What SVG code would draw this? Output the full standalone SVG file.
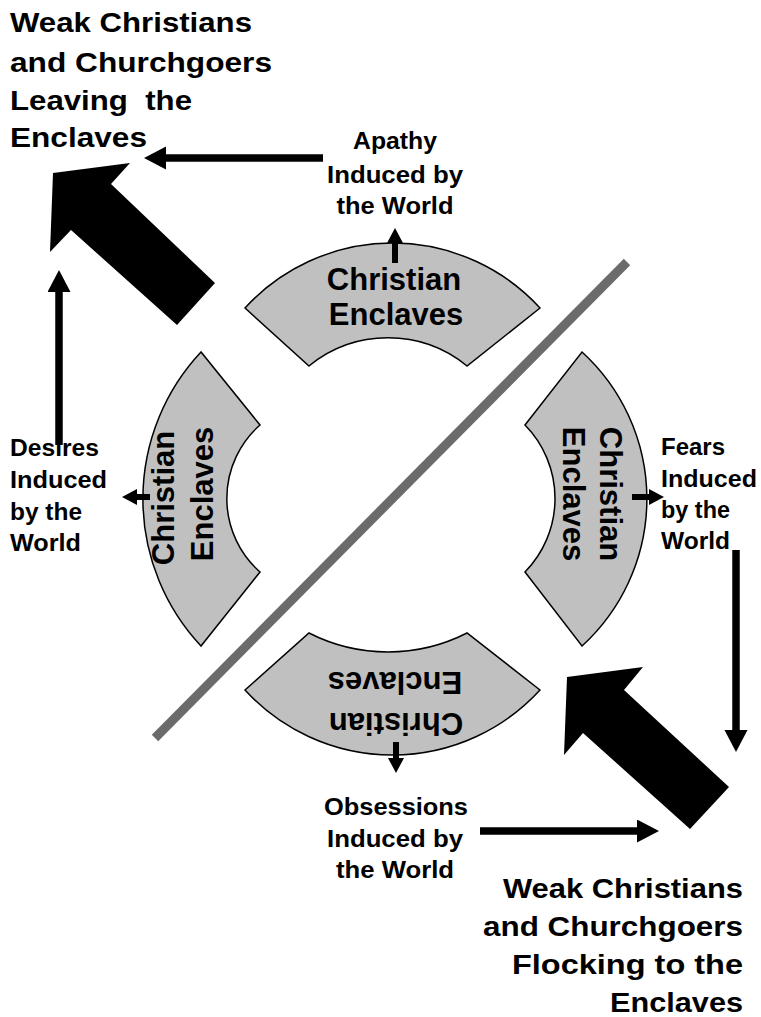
<svg xmlns="http://www.w3.org/2000/svg" width="761" height="1017" viewBox="0 0 761 1017">
  <style>
    .sector { fill: #c0c0c0; stroke: #000; stroke-width: 1.5; stroke-linejoin: miter; }
    .lbl { font-family: "Liberation Sans", Arial, sans-serif; font-weight: bold; fill: #000; }
    .big { font-size: 27px; }
    .small { font-size: 23px; }
    .sec { font-size: 31px; text-anchor: middle; }
    .thin { stroke: #000; stroke-width: 6; fill: none; }
    .long { stroke: #000; stroke-width: 7.5; fill: none; }
    .block { fill: #000; }
  </style>
  <defs>
    <marker id="headSmall" markerUnits="userSpaceOnUse" markerWidth="18" markerHeight="18" refX="0" refY="8" orient="auto">
      <path d="M0,0 L15,8 L0,16 Z" fill="#000"/>
    </marker>
    <marker id="headLong" markerUnits="userSpaceOnUse" markerWidth="26" markerHeight="26" refX="0" refY="11.5" orient="auto">
      <path d="M0,0 L22,11.5 L0,23 Z" fill="#000"/>
    </marker>
  </defs>

  <rect width="761" height="1017" fill="#fff"/>

  <!-- dividing diagonal -->
  <line x1="155" y1="738" x2="627" y2="262" stroke="#6b6b6b" stroke-width="9"/>

  <!-- enclave ring segments -->
  <g id="enclave-top">
    <path class="sector" d="M245,308 A200,200 0 0 1 540,308 L467,366 A125,125 0 0 0 309,366 Z"/>
    <text class="lbl sec" x="394" y="290">Christian</text>
    <text class="lbl sec" x="396" y="325">Enclaves</text>
  </g>
  <g id="enclave-left">
    <path class="sector" d="M201,646 A215,215 0 0 1 201,352 L260,425 A98,98 0 0 0 260,572 Z"/>
    <text class="lbl sec" transform="translate(174,498) rotate(-90)">Christian</text>
    <text class="lbl sec" transform="translate(213,494) rotate(-90)">Enclaves</text>
  </g>
  <g id="enclave-right">
    <path class="sector" d="M582,352 A199,199 0 0 1 582,646 L525,572 A105,105 0 0 0 525,425 Z"/>
    <text class="lbl sec" transform="translate(600,494) rotate(90)">Christian</text>
    <text class="lbl sec" transform="translate(563,494) rotate(90)">Enclaves</text>
  </g>
  <g id="enclave-bottom">
    <path class="sector" d="M540,690 A200,200 0 0 1 245,690 L309,633 A174,174 0 0 0 467,633 Z"/>
    <text class="lbl sec" transform="translate(396,713) rotate(180)">Christian</text>
    <text class="lbl sec" transform="translate(395,672) rotate(180)">Enclaves</text>
  </g>

  <!-- influence labels -->
  <g id="apathy">
    <text class="lbl small" text-anchor="middle" x="395" y="149" textLength="84" lengthAdjust="spacingAndGlyphs">Apathy</text>
    <text class="lbl small" text-anchor="middle" x="395" y="183" textLength="136" lengthAdjust="spacingAndGlyphs">Induced by</text>
    <text class="lbl small" text-anchor="middle" x="395" y="214" textLength="117" lengthAdjust="spacingAndGlyphs">the World</text>
  </g>
  <g id="desires">
    <text class="lbl small" x="10" y="456" textLength="89" lengthAdjust="spacingAndGlyphs">Desires</text>
    <text class="lbl small" x="10" y="488" textLength="97" lengthAdjust="spacingAndGlyphs">Induced</text>
    <text class="lbl small" x="10" y="520" textLength="72" lengthAdjust="spacingAndGlyphs">by the</text>
    <text class="lbl small" x="10" y="551" textLength="71" lengthAdjust="spacingAndGlyphs">World</text>
  </g>
  <g id="fears">
    <text class="lbl small" x="661" y="455" textLength="64" lengthAdjust="spacingAndGlyphs">Fears</text>
    <text class="lbl small" x="661" y="487" textLength="96" lengthAdjust="spacingAndGlyphs">Induced</text>
    <text class="lbl small" x="661" y="518" textLength="69" lengthAdjust="spacingAndGlyphs">by the</text>
    <text class="lbl small" x="661" y="549" textLength="69" lengthAdjust="spacingAndGlyphs">World</text>
  </g>
  <g id="obsessions">
    <text class="lbl small" text-anchor="middle" x="396" y="815" textLength="144" lengthAdjust="spacingAndGlyphs">Obsessions</text>
    <text class="lbl small" text-anchor="middle" x="395" y="847" textLength="136" lengthAdjust="spacingAndGlyphs">Induced by</text>
    <text class="lbl small" text-anchor="middle" x="395" y="878" textLength="118" lengthAdjust="spacingAndGlyphs">the World</text>
  </g>

  <!-- outcome labels -->
  <g id="leaving">
    <text class="lbl big" x="10" y="32" textLength="242" lengthAdjust="spacingAndGlyphs">Weak Christians</text>
    <text class="lbl big" x="10" y="72" textLength="262" lengthAdjust="spacingAndGlyphs">and Churchgoers</text>
    <text class="lbl big" x="10" y="110" textLength="182" lengthAdjust="spacingAndGlyphs" xml:space="preserve">Leaving  the</text>
    <text class="lbl big" x="10" y="147" textLength="137" lengthAdjust="spacingAndGlyphs">Enclaves</text>
  </g>
  <g id="flocking">
    <text class="lbl big" text-anchor="end" x="743" y="898" textLength="240" lengthAdjust="spacingAndGlyphs">Weak Christians</text>
    <text class="lbl big" text-anchor="end" x="743" y="936" textLength="260" lengthAdjust="spacingAndGlyphs">and Churchgoers</text>
    <text class="lbl big" text-anchor="end" x="743" y="974" textLength="231" lengthAdjust="spacingAndGlyphs">Flocking to the</text>
    <text class="lbl big" text-anchor="end" x="743" y="1012" textLength="133" lengthAdjust="spacingAndGlyphs">Enclaves</text>
  </g>

  <!-- connectors -->
  <g id="connectors">
    <!-- short arrows out of each segment -->
    <line class="thin" x1="395" y1="263" x2="395" y2="243" marker-end="url(#headSmall)"/>
    <line class="thin" x1="150" y1="497" x2="137" y2="497" marker-end="url(#headSmall)"/>
    <line class="thin" x1="632" y1="497" x2="649" y2="497" marker-end="url(#headSmall)"/>
    <line class="thin" x1="396" y1="742" x2="396" y2="758" marker-end="url(#headSmall)"/>
    <!-- long arrows toward the outcomes -->
    <line class="long" x1="323" y1="158" x2="166" y2="158" marker-end="url(#headLong)"/>
    <line class="long" x1="59" y1="445" x2="59" y2="292" marker-end="url(#headLong)"/>
    <line class="long" x1="736" y1="550" x2="736" y2="730" marker-end="url(#headLong)"/>
    <line class="long" x1="480" y1="831" x2="637" y2="831" marker-end="url(#headLong)"/>
    <!-- broad block arrows -->
    <polygon class="block" points="53,173 130,163 111,184 215,283 177,325 71,230 50,252"/>
    <polygon class="block" points="567,677 643,667 624,690 729,787 690,829 583,733 564,755"/>
  </g>
</svg>
